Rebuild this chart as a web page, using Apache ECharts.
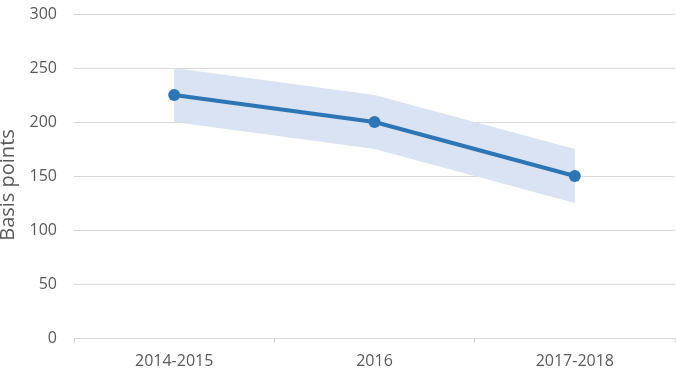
<!DOCTYPE html>
<html><head><meta charset="utf-8">
<script src="https://cdn.jsdelivr.net/npm/echarts@6/dist/echarts.min.js"></script>
<style>html,body{margin:0;padding:0;background:#fff}#c{width:676px;height:370px}</style>
</head><body><div id="c"></div>
<script>
var categories = ['2014-2015', '2016', '2017-2018'];
var central = [225, 200, 150];
var lowerBound = [200, 175, 125];
var upperBound = [250, 225, 175];
var yTicks = [0, 50, 100, 150, 200, 250, 300];

var bandWidth = upperBound.map(function (v, i) { return v - lowerBound[i]; });
var font = 'Open Sans';
var chart = echarts.init(document.getElementById('c'), null, {renderer: 'canvas'});
chart.setOption({
  animation: false,
  grid: {left: 74, right: 1, top: 14, bottom: 32, containLabel: false, outerBoundsMode: 'none'},
  xAxis: {
    type: 'category', data: categories, boundaryGap: true,
    axisLine: {lineStyle: {color: '#d9d9d9', width: 1}},
    axisTick: {show: true, length: 5, lineStyle: {color: '#d9d9d9'}},
    axisLabel: {color: '#595959', fontFamily: font, fontSize: 16, margin: 15}
  },
  yAxis: {
    type: 'value', min: yTicks[0], max: yTicks[yTicks.length - 1], interval: 50,
    name: 'Basis points', nameLocation: 'middle', nameGap: 55,
    nameTextStyle: {color: '#595959', fontFamily: font, fontSize: 20, padding: [0, 18, 0, 0]},
    axisLine: {show: false}, axisTick: {show: false},
    axisLabel: {color: '#595959', fontFamily: font, fontSize: 16, margin: 17},
    splitLine: {lineStyle: {color: '#d9d9d9', width: 1}}
  },
  series: [
    {type: 'line', stack: 'band', data: lowerBound, symbol: 'none', lineStyle: {opacity: 0}, silent: true},
    {type: 'line', stack: 'band', data: bandWidth, symbol: 'none', lineStyle: {opacity: 0},
     areaStyle: {color: '#dae3f3', opacity: 1}, silent: true},
    {type: 'line', data: central, symbol: 'circle', symbolSize: 12,
     lineStyle: {color: '#2e75b6', width: 4}, itemStyle: {color: '#2e75b6'}}
  ]
});
</script></body></html>
